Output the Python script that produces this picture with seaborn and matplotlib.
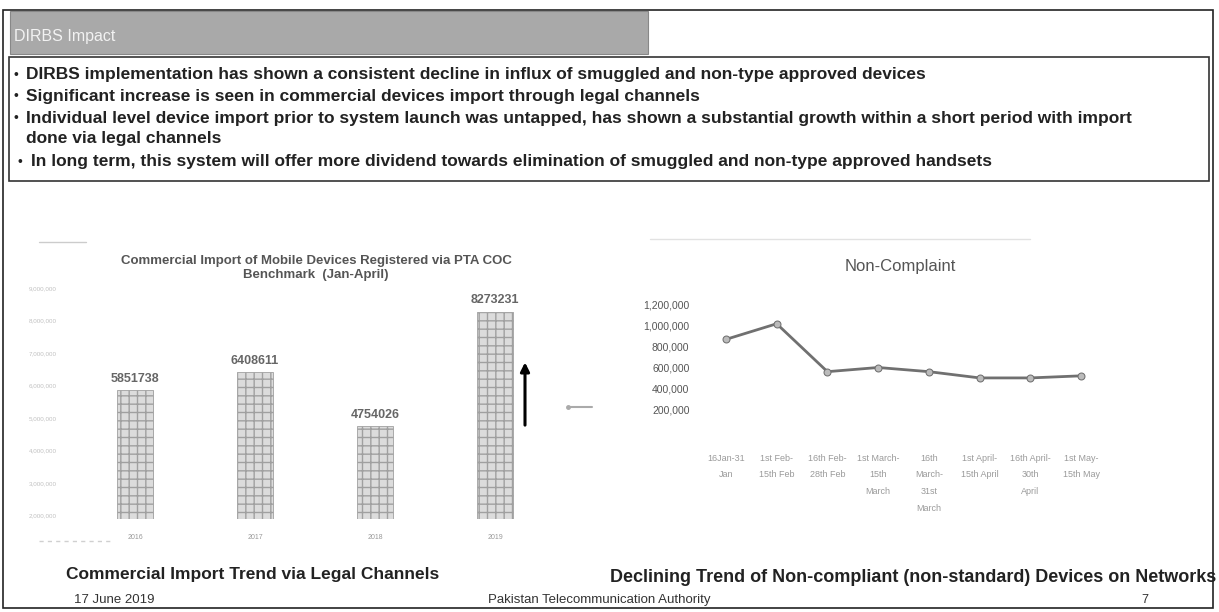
import matplotlib
matplotlib.use("Agg")
import matplotlib.pyplot as plt
from matplotlib.patches import Rectangle
from matplotlib.lines import Line2D
import seaborn as sns

# data
years = ['2016', '2017', '2018', '2019']
imports = [5851738, 6408611, 4754026, 8273231]

periods = ['16Jan-31\nJan', '1st Feb-\n15th Feb', '16th Feb-\n28th Feb', '1st March-\n15th\nMarch',
           '16th\nMarch-\n31st\nMarch', '1st April-\n15th April', '16th April-\n30th\nApril', '1st May-\n15th May']
non_compliant = [870000, 1020000, 560000, 600000, 560000, 500000, 500000, 520000]
nc_ticks = [200000, 400000, 600000, 800000, 1000000, 1200000]

bullets = [
  'DIRBS implementation has shown a consistent decline in influx of smuggled and non-type approved devices',
  'Significant increase is seen in commercial devices import through legal channels',
  'Individual level device import prior to system launch was untapped, has shown a substantial growth within a short period with import',
  'In long term, this system will offer more dividend towards elimination of smuggled and non-type approved handsets',
]

W, H = 1219, 612

sns.set_theme(style='white')
plt.rcParams['font.family'] = ['Liberation Sans', 'DejaVu Sans']

fig = plt.figure(figsize=(W / 100, H / 100), dpi=100)


def px_axes(x0, y0, x1, y1):
  return fig.add_axes([x0 / W, 1 - y1 / H, (x1 - x0) / W, (y1 - y0) / H])


def px_text(x, y, s, **kw):
  fig.text(x / W, 1 - y / H, s, **kw)


def px_line(x0, x1, y, **kw):
  fig.add_artist(Line2D([x0 / W, x1 / W], [1 - y / H, 1 - y / H], transform=fig.transFigure, **kw))


# slide frame, header band and bullet box
fig.add_artist(Rectangle((3 / W, 1 - 608 / H), 1210 / W, 598 / H, transform=fig.transFigure,
                         fill=False, edgecolor='#222222', lw=1.2))
fig.add_artist(Rectangle((10 / W, 1 - 54 / H), 638 / W, 43 / H, transform=fig.transFigure,
                         facecolor='#a9a9a9', edgecolor='#888888', lw=0.8))
px_text(14, 37, 'DIRBS Impact', fontsize=11.5, color='#f2f2f2', va='center')
fig.add_artist(Rectangle((9 / W, 1 - 181 / H), 1200 / W, 124 / H, transform=fig.transFigure,
                         facecolor='white', edgecolor='#333333', lw=1.2))

rows = [(75, bullets[0], 13, 26), (96, bullets[1], 13, 26), (118, bullets[2], 13, 26),
        (162, bullets[3], 17, 31)]
for y, txt, bx, tx in rows:
  px_text(bx, y, '•', fontsize=10, color='#222222', va='center')
  px_text(tx, y, txt, fontsize=12.5, fontweight='bold', color='#222222', va='center')
px_text(26, 139, 'done via legal channels', fontsize=12.5, fontweight='bold', color='#222222', va='center')

# bar chart (commercial import)
ax1 = px_axes(75, 288, 555, 519)
sns.barplot(x=years, y=imports, ax=ax1, color='#dcdcdc', width=0.3,
            edgecolor='#a0a0a0', linewidth=0.6, hatch='++')
ax1.set_ylim(1900000, 9000000)
ax1.set_xlim(-0.5, 3.5)
ax1.bar_label(ax1.containers[0], labels=[str(v) for v in imports], padding=4,
              fontsize=9, fontweight='bold', color='#666666')
ax1.set_yticks(range(2000000, 9000001, 1000000))
ax1.set_yticklabels([f'{v:,}' for v in range(2000000, 9000001, 1000000)], fontsize=4.5, color='#c0c0c0')
ax1.tick_params(axis='x', labelsize=5, labelcolor='#999999', pad=5)
ax1.tick_params(axis='y', pad=7)
ax1.set_xlabel('')
ax1.set_ylabel('')
sns.despine(ax=ax1, left=True, bottom=True)
ax1.annotate('', xy=(3.25, 6800000), xytext=(3.25, 4700000),
             arrowprops=dict(arrowstyle='-|>', color='black', lw=2.2, mutation_scale=13))
px_text(316, 268, 'Commercial Import of Mobile Devices Registered via PTA COC\nBenchmark  (Jan-April)',
        fontsize=9.5, fontweight='bold', color='#555555', ha='center', va='center', linespacing=1.15)
px_line(39, 86, 242, color='#cccccc', lw=1)
px_line(39, 110, 541, color='#d0d0d0', lw=1, ls=(0, (3, 3)))

# line chart (non-compliant)
ax2 = px_axes(695, 305, 1110, 430)
sns.lineplot(x=list(range(len(periods))), y=non_compliant, ax=ax2, color='#707070', lw=2,
             marker='o', markersize=5, markerfacecolor='#bbbbbb', markeredgecolor='#707070')
ax2.set_ylim(0, 1200000)
ax2.set_xlim(-0.61, 7.57)
ax2.set_yticks(nc_ticks)
ax2.set_yticklabels([f'{v:,}' for v in nc_ticks], fontsize=7.5, color='#555555')
ax2.set_xticks(range(len(periods)))
ax2.set_xticklabels(periods, fontsize=6.5, color='#9a9a9a', linespacing=2.1)
ax2.tick_params(axis='x', pad=17, length=0)
ax2.tick_params(axis='y', pad=4, length=0)
sns.despine(ax=ax2, left=True, bottom=True)
px_text(900, 266, 'Non-Complaint', fontsize=12, color='#555555', ha='center', va='center')
px_line(568, 592, 407, color='#aaaaaa', lw=1.5, marker='o', markersize=2.5, markevery=[0])
px_line(650, 1030, 239, color='#e2e2e2', lw=1)

# captions and footer
px_text(66, 574, 'Commercial Import Trend via Legal Channels', fontsize=12.5, fontweight='bold',
        color='#222222', va='center')
px_text(610, 578, 'Declining Trend of Non-compliant (non-standard) Devices on Networks', fontsize=13,
        fontweight='bold', color='#222222', va='center')
px_text(74, 600, '17 June 2019', fontsize=9.5, color='#333333', va='center')
px_text(488, 600, 'Pakistan Telecommunication Authority', fontsize=9.5, color='#333333', va='center')
px_text(1141, 600, '7', fontsize=9, color='#333333', va='center')

fig.savefig('out.png', dpi=100)
